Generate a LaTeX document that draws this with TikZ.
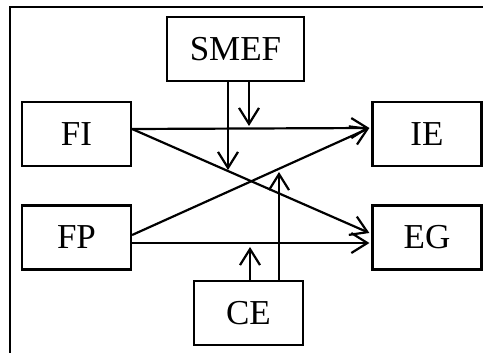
\documentclass[tikz,border=0pt]{standalone}
\usepackage{fontspec}
\setmainfont{Liberation Serif}
\usetikzlibrary{arrows.meta}
\begin{document}
\begin{tikzpicture}[x=1pt,y=-1pt,
  box/.style={draw,line width=2.2pt,inner sep=0pt,minimum width=109pt,minimum height=64pt,font=\fontsize{35}{40}\selectfont},
  arr/.style={line width=2.2pt,-{Straight Barb[length=16pt,width=20pt,line join=miter]}}]
\useasboundingbox (0,0) rectangle (483,353);
\draw[line width=2.4pt] (10,353) -- (10,7) -- (483,7);
\node[box,minimum width=137pt] (SMEF) at (235.5,49) {SMEF};
\node[box] (FI) at (76.5,134) {FI};
\node[box] (IE) at (427,134) {IE};
\node[box] (FP) at (76.5,237.5) {FP};
\node[box] (EG) at (427,237.5) {EG};
\node[box] (CE) at (248.5,313) {CE};
\coordinate (fi) at (FI.east |- 0,129);
\coordinate (fp1) at (FP.east |- 0,235);
\coordinate (fp2) at (FP.east |- 0,243);
\coordinate (ie) at ([xshift=-2pt]IE.west |- 0,128);
\coordinate (eg1) at ([xshift=-2pt]EG.west |- 0,233);
\coordinate (eg2) at ([xshift=-2pt]EG.west |- 0,243);
\coordinate (s1) at (228,170);
\coordinate (s2) at (249,126);
\coordinate (c1) at (250,247);
\coordinate (c2) at (279,172);
\draw[arr] (fi) -- (ie);
\draw[arr] (fi) -- (eg1);
\draw[arr] (fp1) -- (ie);
\draw[arr] (fp2) -- (eg2);
\draw[arr] (SMEF.south -| s1) -- (s1);
\draw[arr] (SMEF.south -| s2) -- (s2);
\draw[arr] (CE.north -| c1) -- (c1);
\draw[arr] (CE.north -| c2) -- (c2);
\end{tikzpicture}
\end{document}
